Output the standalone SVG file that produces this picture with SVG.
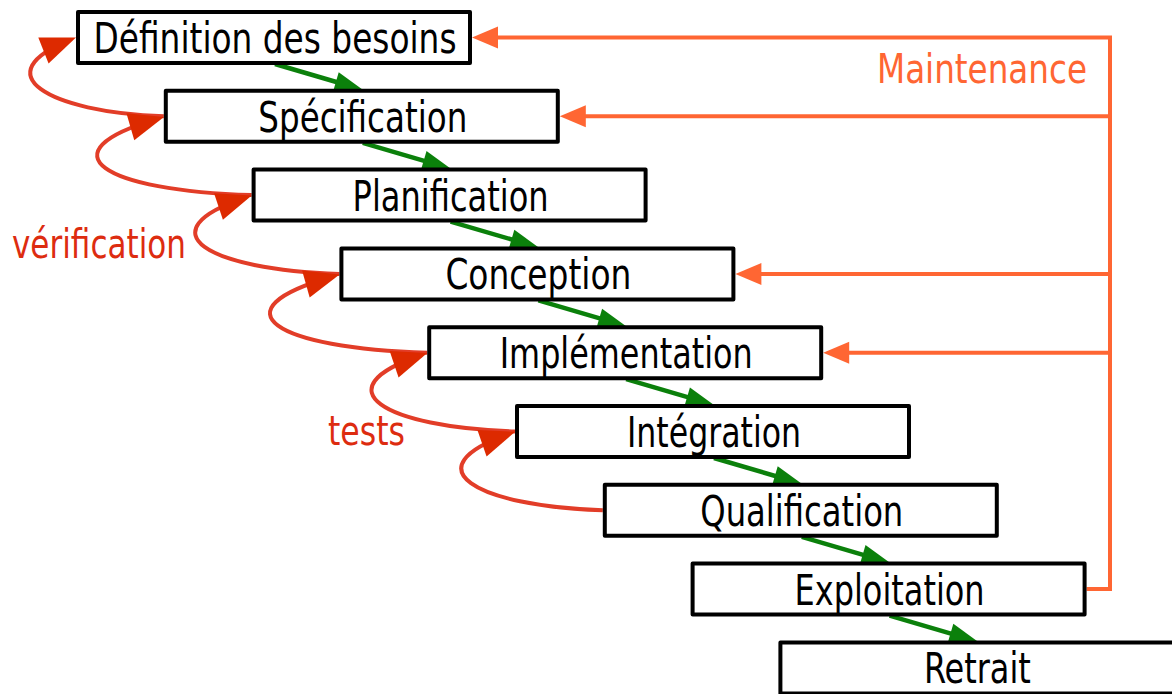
<svg xmlns="http://www.w3.org/2000/svg" width="1172" height="694" viewBox="0 0 1172 694">
  <style>
    .box rect { fill: #ffffff; stroke: #000000; stroke-width: 4; stroke-linejoin: round; }
    .box text { font-family: "DejaVu Sans Condensed", "DejaVu Sans", sans-serif; font-size: 42px; fill: #000000; text-anchor: middle; }
    .flow { stroke: #0b800b; stroke-width: 4.5; fill: none; marker-end: url(#arrGreen); }
    .check { stroke: #e23d28; stroke-width: 4; fill: none; marker-end: url(#arrRed); }
    .maint { stroke: #ff6633; stroke-width: 4; fill: none; stroke-linejoin: miter; }
    .maintArr { marker-end: url(#arrOrange); }
    .lbl { font-family: "DejaVu Sans Condensed", "DejaVu Sans", sans-serif; font-size: 40px; }
  </style>
  <defs>
    <marker id="arrGreen" markerUnits="userSpaceOnUse" viewBox="-22 -12 32 24" markerWidth="32" markerHeight="24" refX="0" refY="0" orient="auto">
      <path d="M8,0 L-20,-10 L-20,10 Z" fill="#0b800b"/>
    </marker>
    <marker id="arrRed" markerUnits="userSpaceOnUse" viewBox="-32 -16 40 32" markerWidth="40" markerHeight="32" refX="0" refY="0" orient="auto">
      <path d="M6,0 L-29,-14 L-29,14 Z" fill="#dd2a00"/>
    </marker>
    <marker id="arrOrange" markerUnits="userSpaceOnUse" viewBox="-20 -13 30 26" markerWidth="30" markerHeight="26" refX="0" refY="0" orient="auto">
      <path d="M8,0 L-18,-11 L-18,11 Z" fill="#ff6633"/>
    </marker>
  </defs>

  <!-- connectors -->
  <g id="connectors">
    <!-- phase to phase flow -->
    <path class="flow" d="M275,64 L355.1,87.5"/>
    <path class="flow" d="M362.8,142.8 L442.9,166.3"/>
    <path class="flow" d="M450.6,221.6 L530.7,245.1"/>
    <path class="flow" d="M538.4,300.4 L618.5,323.9"/>
    <path class="flow" d="M626.2,379.2 L706.3,402.7"/>
    <path class="flow" d="M714,458 L794.1,481.5"/>
    <path class="flow" d="M801.8,536.8 L881.9,560.3"/>
    <path class="flow" d="M889.6,615.6 L969.7,639.1"/>

    <!-- verification / test loops back to the previous phase -->
    <path class="check" d="M163.8,116.3 C47,112 -15.9,73.9 70.4,39.8"/>
    <path class="check" d="M251.6,195.1 C103.8,190.8 40.9,152.7 158.2,118.6"/>
    <path class="check" d="M339.4,273.9 C206.6,269.6 143.7,231.5 246,197.4"/>
    <path class="check" d="M427.2,352.7 C275.4,348.4 212.5,310.3 333.8,276.2"/>
    <path class="check" d="M515,431.5 C383.2,427.2 320.3,389.1 421.6,355"/>
    <path class="check" d="M602.8,510.3 C474,506 411.1,467.9 509.4,433.8"/>

    <!-- maintenance feedback -->
    <path class="maint maintArr" d="M1086.6,589.1 H1110 V37.5 H480"/>
    <path class="maint maintArr" d="M1110,116.3 H567.8"/>
    <path class="maint maintArr" d="M1110,273.9 H743.4"/>
    <path class="maint maintArr" d="M1110,352.7 H831.2"/>
  </g>

  <!-- labels -->
  <text class="lbl" x="12" y="258" fill="#dd2c10" textLength="174" lengthAdjust="spacingAndGlyphs">vérification</text>
  <text class="lbl" x="328" y="445" fill="#dd2c10" textLength="77" lengthAdjust="spacingAndGlyphs">tests</text>
  <text class="lbl" x="877" y="83" fill="#ff6633" textLength="210" lengthAdjust="spacingAndGlyphs">Maintenance</text>

  <!-- phases -->
  <g id="definition" class="box" transform="translate(76,10)">
    <rect x="2" y="2" width="392" height="51"/>
    <text x="199" y="43" textLength="363" lengthAdjust="spacingAndGlyphs">Définition des besoins</text>
  </g>
  <g id="specification" class="box" transform="translate(163.8,88.8)">
    <rect x="2" y="2" width="392" height="51"/>
    <text x="199" y="43" textLength="209" lengthAdjust="spacingAndGlyphs">Spécification</text>
  </g>
  <g id="planification" class="box" transform="translate(251.6,167.6)">
    <rect x="2" y="2" width="392" height="51"/>
    <text x="199" y="43" textLength="196" lengthAdjust="spacingAndGlyphs">Planification</text>
  </g>
  <g id="conception" class="box" transform="translate(339.4,246.4)">
    <rect x="2" y="2" width="392" height="51"/>
    <text x="199" y="43" textLength="186" lengthAdjust="spacingAndGlyphs">Conception</text>
  </g>
  <g id="implementation" class="box" transform="translate(427.2,325.2)">
    <rect x="2" y="2" width="392" height="51"/>
    <text x="199" y="43" textLength="253" lengthAdjust="spacingAndGlyphs">Implémentation</text>
  </g>
  <g id="integration" class="box" transform="translate(515,404)">
    <rect x="2" y="2" width="392" height="51"/>
    <text x="199" y="43" textLength="174" lengthAdjust="spacingAndGlyphs">Intégration</text>
  </g>
  <g id="qualification" class="box" transform="translate(602.8,482.8)">
    <rect x="2" y="2" width="392" height="51"/>
    <text x="199" y="43" textLength="203" lengthAdjust="spacingAndGlyphs">Qualification</text>
  </g>
  <g id="exploitation" class="box" transform="translate(690.6,561.6)">
    <rect x="2" y="2" width="392" height="51"/>
    <text x="199" y="43" textLength="190" lengthAdjust="spacingAndGlyphs">Exploitation</text>
  </g>
  <!-- last phase runs past the right and bottom edges -->
  <g id="retrait" class="box" transform="translate(778.4,640.4)">
    <rect x="2" y="2" width="400" height="51"/>
    <text x="199" y="43" textLength="107" lengthAdjust="spacingAndGlyphs">Retrait</text>
  </g>
</svg>
